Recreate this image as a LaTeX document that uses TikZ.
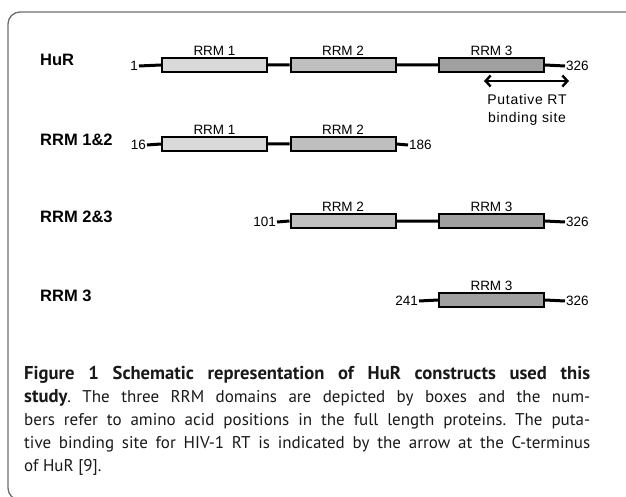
\documentclass[tikz,border=0pt]{standalone}
\usepackage{fontspec}
\setmainfont{Liberation Sans}
\newfontfamily\capfont{PT Sans}
\usetikzlibrary{arrows.meta}
\definecolor{dom1}{RGB}{217,217,217}
\definecolor{dom2}{RGB}{191,191,191}
\definecolor{dom3}{RGB}{160,160,160}
\definecolor{framegray}{RGB}{110,110,110}
\tikzset{
  dom/.style={draw,line width=2pt,minimum width=105pt,minimum height=14pt,inner sep=0pt},
  lbl/.style={font=\fontsize{13.5}{15}\selectfont,inner sep=1.5pt},
  num/.style={font=\fontsize{13.5}{15}\selectfont,inner sep=1pt},
  row/.style={font=\bfseries\fontsize{16.5}{18}\selectfont,anchor=west,inner sep=0pt},
  link/.style={line width=3pt},
}

\begin{document}
\frenchspacing
\begin{tikzpicture}[x=1pt,y=1pt]
\useasboundingbox (0,0) rectangle (626,-497);
\draw[framegray,line width=1.3pt,rounded corners=12pt] (640,-12) -- (8,-12) -- (8,-500) -- (640,-500);
% HuR
\node[row] (l1) at (40,-60) {HuR};
\node[num,anchor=east] (s1) at (139,-66) {1};
\node[dom,fill=dom1,label={[lbl]above:RRM 1}] (a1) at (214.5,-65) {};
\node[dom,fill=dom2,label={[lbl]above:RRM 2}] (a2) at (343,-65) {};
\node[dom,fill=dom3,label={[lbl]above:RRM 3}] (a3) at (491.5,-65) {};
\node[num,anchor=west] (e1) at (565,-66) {326};
\coordinate (p1) at (484,-81);
\coordinate (p2) at (569,-81);
\node[lbl,align=center,font=\addfontfeature{LetterSpace=5}\fontsize{14}{18}\selectfont] (site) at (527,-110) {Putative RT\\binding site};
% RRM1&2
\node[row] (l2) at (40,-140) {RRM 1\&2};
\node[num,anchor=east] (s2) at (147,-145) {16};
\node[dom,fill=dom1,label={[lbl]above:RRM 1}] (b1) at (214.5,-144) {};
\node[dom,fill=dom2,label={[lbl]above:RRM 2}] (b2) at (343,-144) {};
\node[num,anchor=west] (e2) at (408,-145) {186};
% RRM2&3
\node[row] (l3) at (40,-217) {RRM 2\&3};
\node[num,anchor=east] (s3) at (277,-222) {101};
\node[dom,fill=dom2,label={[lbl]above:RRM 2}] (c2) at (343,-221) {};
\node[dom,fill=dom3,label={[lbl]above:RRM 3}] (c3) at (491.5,-221) {};
\node[num,anchor=west] (e3) at (565,-222) {326};
% RRM3
\node[row] (l4) at (40,-296) {RRM 3};
\node[num,anchor=east] (s4) at (419,-301) {241};
\node[dom,fill=dom3,label={[lbl]above:RRM 3}] (d3) at (491.5,-300) {};
\node[num,anchor=west] (e4) at (565,-301) {326};
% backbone
\draw[link] (s1.east) -- (a1.west) (a1.east) -- (a2.west) (a2.east) -- (a3.west) (a3.east) -- (e1.west);
\draw[link] (s2.east) -- (b1.west) (b1.east) -- (b2.west) (b2.east) -- (e2.west);
\draw[link] (s3.east) -- (c2.west) (c2.east) -- (c3.west) (c3.east) -- (e3.west);
\draw[link] (s4.east) -- (d3.west) (d3.east) -- (e4.west);
\draw[line width=2.4pt,{Straight Barb[length=5pt,width=11pt]}-{Straight Barb[length=5pt,width=11pt]}] (p1) -- (p2);
% caption
\node[anchor=north west,inner sep=0pt,text width=566pt,align=justify,
  font=\capfont\fontsize{17}{23}\selectfont,text=black!90] (cap) at (24,-366)
  {{\bfseries\fontsize{18.6}{23}\selectfont Figure 1 Schematic representation of HuR constructs used this\linebreak
  study}. The three RRM domains are depicted by boxes and the num-\linebreak
  bers refer to amino acid positions in the full length proteins. The puta-\linebreak
  tive binding site for HIV-1 RT is indicated by the arrow at the C-terminus\linebreak
  of HuR [9].};
\end{tikzpicture}
\end{document}
